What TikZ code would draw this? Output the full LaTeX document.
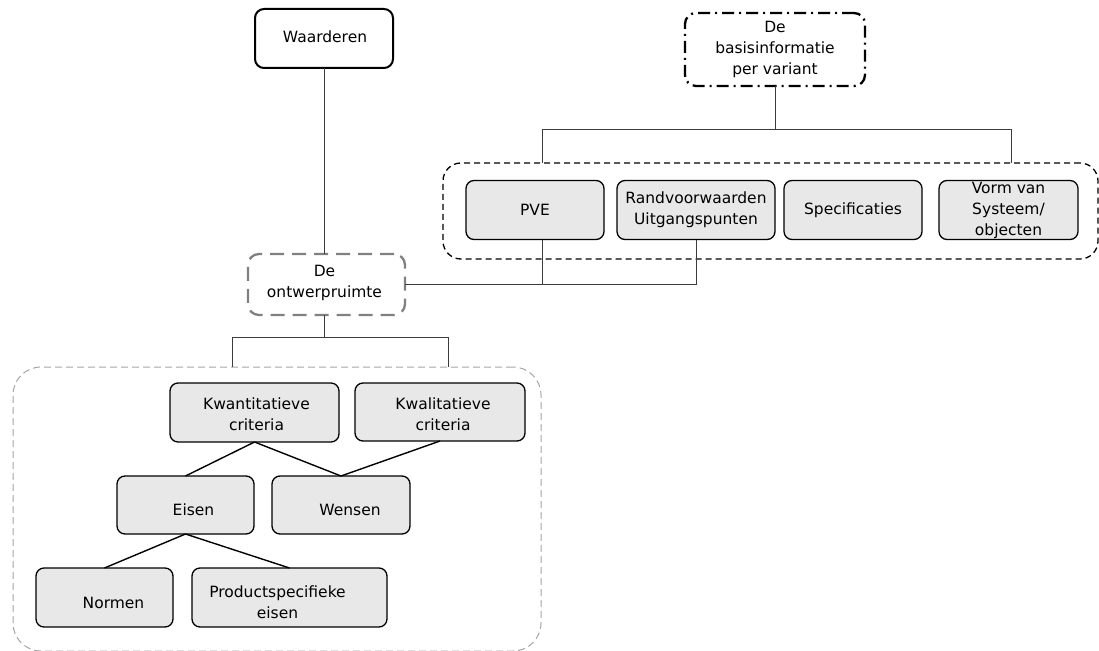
\documentclass[tikz,border=0pt]{standalone}
\usepackage{fontspec}
\setmainfont{DejaVu Sans}
\definecolor{boxfill}{RGB}{232,232,232}
\definecolor{linegray}{RGB}{60,60,60}
\definecolor{midgray}{RGB}{128,128,128}
\definecolor{lightgray}{RGB}{165,165,165}
\begin{document}
\begin{tikzpicture}[x=1pt,y=-1pt,
  font=\fontsize{15.5}{21}\selectfont,
  every node/.style={inner sep=0pt, outer sep=0pt, align=center},
  itembox/.style={draw=black, fill=boxfill, line width=1.3pt, rounded corners=8pt},
  headbox/.style={draw=black, line width=2pt, rounded corners=9pt},
  dashdotbox/.style={draw=black, line width=2.3pt, rounded corners=11pt,
    dash pattern=on 12pt off 5pt on 2pt off 5pt},
  graydashbox/.style={draw=midgray, line width=2.3pt, rounded corners=11pt,
    dash pattern=on 14pt off 8pt},
  groupbox/.style={draw=black, line width=1.3pt, rounded corners=18pt,
    dash pattern=on 6pt off 4pt},
  outerbox/.style={draw=lightgray, line width=1pt, rounded corners=28pt,
    dash pattern=on 7pt off 4pt},
  link/.style={draw=linegray, line width=1pt},
  branch/.style={draw=black, line width=1.4pt},
  txt/.style={align=center}
]
\useasboundingbox (0,0) rectangle (1099,650);

% top level
\node[headbox, minimum width=138pt, minimum height=59pt] (waard) at (324,38.5) {};
\node[txt] (waardT) at ([shift={(1,-2)}]waard.center) {Waarderen};
\node[dashdotbox, minimum width=180pt, minimum height=73pt] (basis) at (775,49.5)
  {De\\basisinformatie\\per variant};
\node[graydashbox, minimum width=157pt, minimum height=61pt] (ontw) at (326.5,284.5) {};
\node[txt] (ontwT) at ([shift={(-2,-2)}]ontw.center) {De\\ontwerpruimte};

% group of basic information items
\node[groupbox, minimum width=655pt, minimum height=96pt] (grp) at (770.5,211) {};
\node[itembox, minimum width=138pt, minimum height=59pt] (pve) at (535,210) {PVE};
\node[itembox, minimum width=158pt, minimum height=59pt] (rand) at (696,210)
  {Randvoorwaarden\\Uitgangspunten};
\node[itembox, minimum width=138pt, minimum height=59pt] (spec) at (853,210) {Specificaties};
\node[itembox, minimum width=139pt, minimum height=59pt] (vorm) at (1008.5,210)
  {Vorm van\\Systeem/\\objecten};

% group of criteria
\node[outerbox, minimum width=528pt, minimum height=284pt] (outer) at (277,509) {};
\node[itembox, minimum width=169pt, minimum height=59pt] (kwant) at (254.5,412.5) {};
\node[txt] (kwantT) at ([shift={(2,2)}]kwant.center) {Kwantitatieve\\criteria};
\node[itembox, minimum width=170pt, minimum height=58pt] (kwal) at (440,412) {};
\node[txt] (kwalT) at ([shift={(3,2)}]kwal.center) {Kwalitatieve\\criteria};
\node[itembox, minimum width=137pt, minimum height=58pt] (eisen) at (185.5,505) {};
\node[txt] (eisenT) at ([shift={(8,5)}]eisen.center) {Eisen};
\node[itembox, minimum width=138pt, minimum height=58pt] (wensen) at (341,505) {};
\node[txt] (wensenT) at ([shift={(9,5)}]wensen.center) {Wensen};
\node[itembox, minimum width=137pt, minimum height=59pt] (normen) at (104.5,597.5) {};
\node[txt] (normenT) at ([shift={(9,5)}]normen.center) {Normen};
\node[itembox, minimum width=195pt, minimum height=59pt] (product) at (289.5,597.5) {};
\node[txt] (productT) at ([shift={(-12,5)}]product.center) {Productspecifieke\\eisen};

% bus coordinates
\coordinate (barL) at (542,129);
\coordinate (barR) at (1011,129);
\coordinate (lbarL) at (232,337);
\coordinate (lbarR) at (448,337);
\coordinate (lbarM) at (324,337);
\coordinate (pveTap) at (542,239.5);

% connectors
\draw[link] (waard.south) -- (waard.south |- ontw.north);
\draw[link] (basis.south) -- (basis.south |- barL);
\draw[link] (barL |- grp.north) -- (barL) -- (barR) -- (barR |- grp.north);
\draw[link] (ontw.east) -| (rand.south);
\draw[link] (pveTap) -- (pveTap |- ontw.east);
\draw[link] (lbarM |- ontw.south) -- (lbarM);
\draw[link] (lbarL |- outer.north) -- (lbarL) -- (lbarR) -- (lbarR |- outer.north);

\draw[branch] (kwant.south) -- (eisen.north);
\draw[branch] (kwant.south) -- (wensen.north);
\draw[branch] (kwal.south) -- (wensen.north);
\draw[branch] (eisen.south) -- (normen.north);
\draw[branch] (eisen.south) -- (product.north);
\end{tikzpicture}
\end{document}
